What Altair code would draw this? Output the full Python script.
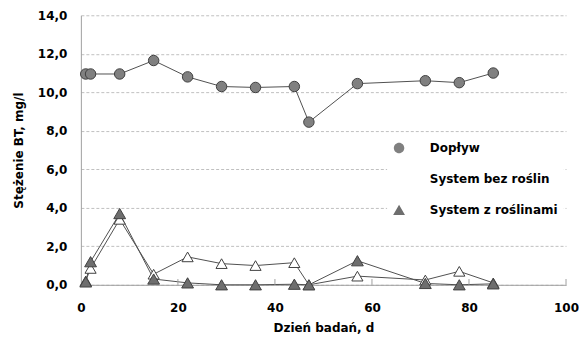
import altair as alt
import pandas as pd

days = [1, 2, 8, 15, 22, 29, 36, 44, 47, 57, 71, 78, 85]
doplyw = [10.95, 10.95, 10.95, 11.65, 10.8, 10.3, 10.25, 10.3, 8.45, 10.45, 10.6, 10.5, 11.0]
bez_roslin = [0.2, 0.85, 3.4, 0.55, 1.45, 1.1, 1.0, 1.15, 0.0, 0.45, 0.25, 0.7, 0.1]
z_roslinami = [0.15, 1.2, 3.7, 0.3, 0.1, 0.0, 0.0, 0.03, 0.0, 1.25, 0.07, 0.0, 0.05]
series_names = ["Dopływ", "System bez roślin", "System z roślinami"]
fill_colors = ["#808080", "#ffffff", "#6e6e6e"]
x_ticks = [0, 20, 40, 60, 80, 100]
y_ticks = [0, 2, 4, 6, 8, 10, 12, 14]
inner_ticks = [20, 40, 60, 80, 100]

rows = []
for name, vals in zip(series_names, [doplyw, bez_roslin, z_roslinami]):
    for d, v in zip(days, vals):
        rows.append({"day": d, "value": v, "series": name})
df = pd.DataFrame(rows)
ticks_df = pd.DataFrame({"t": inner_ticks, "y0": [0] * 5, "y1": [0.3] * 5})

FONT = "DejaVu Sans"


def xs():
    return alt.Scale(domain=[0, 100], nice=False, zero=False, padding=0)


def ys():
    return alt.Scale(domain=[0, 14], nice=False, zero=False, padding=0)


x_enc = alt.X("day:Q", scale=xs(),
              axis=alt.Axis(values=x_ticks, tickCount=6, title="Dzień badań, d", grid=False,
                            ticks=False, labelFlush=False, labelPadding=18, titlePadding=9))
y_enc = alt.Y("value:Q", scale=ys(),
              axis=alt.Axis(values=y_ticks, tickCount=8, title="Stężenie BT, mg/l",
                            ticks=False, labelFlush=False, labelPadding=14, titlePadding=12,
                            grid=True, labelOverlap=False,
                            labelExpr="replace(format(datum.value, '.1f'), '.', ',')"))

# legend swatches: marker with a short line through it (Excel style)
circle_path = ("M-2.8,0H-1M1,0H2.8M-1,0C-1,-0.5523 -0.5523,-1 0,-1"
               "C0.5523,-1 1,-0.5523 1,0C1,0.5523 0.5523,1 0,1C-0.5523,1 -1,0.5523 -1,0Z")
tri_path = "M-2.8,0.25H-0.7M0.7,0.25H2.8M0,-0.98L1.13,0.98L-1.13,0.98Z"

legend = alt.Legend(
    title=None, orient="none", legendX=306.75, legendY=121,
    labelFont=FONT, labelFontSize=12, labelFontWeight="bold", labelColor="#000000",
    symbolSize=110, labelOffset=24.75, rowPadding=15, padding=6, fillColor="white",
    symbolStrokeColor="#404040", symbolStrokeWidth=1, symbolOpacity=1,
)

lines = alt.Chart(df).mark_line(strokeWidth=1, color="#505050").encode(
    x=x_enc, y=y_enc, detail="series:N")

points = alt.Chart(df).mark_point(filled=True, stroke="#404040", strokeWidth=1, opacity=1).encode(
    x=alt.X("day:Q", scale=xs()), y=alt.Y("value:Q", scale=ys()),
    shape=alt.Shape("series:N", scale=alt.Scale(domain=series_names,
                                                  range=["circle", "triangle-up", "triangle-up"]),
                    legend=None),
    fill=alt.Fill("series:N", scale=alt.Scale(domain=series_names, range=fill_colors),
                  legend=None),
    size=alt.Size("series:N", scale=alt.Scale(domain=series_names, range=[110, 140, 140]),
                  legend=None),
)

# invisible copy of the markers that only drives the legend swatches
legend_src = alt.Chart(df).mark_point(filled=True, stroke="#404040", strokeWidth=1,
                                      opacity=0).encode(
    x=alt.X("day:Q", scale=xs()), y=alt.Y("value:Q", scale=ys()),
    shape=alt.Shape("series:N", scale=alt.Scale(domain=series_names,
                                                  range=[circle_path, tri_path, tri_path]),
                    legend=legend),
    fill=alt.Fill("series:N", scale=alt.Scale(domain=series_names, range=fill_colors),
                  legend=legend),
)

tick_rules = alt.Chart(ticks_df).mark_rule(color="#a0a0a0", strokeWidth=1).encode(
    x=alt.X("t:Q", scale=xs()), y=alt.Y("y0:Q", scale=ys()), y2="y1:Q")

chart = alt.layer(lines, tick_rules, points, legend_src).resolve_scale(
    shape="independent", fill="independent", size="independent"
).properties(
    width=486, height=270,
    padding={"left": 4, "top": 1, "right": 0, "bottom": 0},
).configure_view(stroke=None).configure_axis(
    domainColor="#a0a0a0", gridColor="#c0c0c0", gridDash=[3, 2],
    labelFont=FONT, labelFontSize=12, labelFontWeight="bold", labelColor="#000000",
    titleFont=FONT, titleFontSize=12, titleFontWeight="bold", titleColor="#000000",
)

chart.save("out.html", embed_options={"renderer": "svg", "actions": False})
